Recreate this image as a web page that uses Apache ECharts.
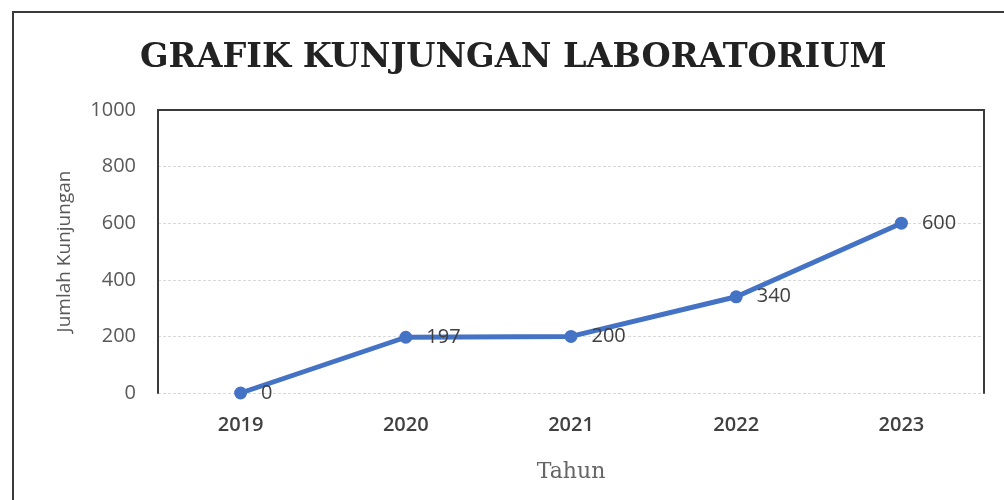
<!DOCTYPE html>
<html>
<head>
<meta charset="utf-8">
<script src="https://cdn.jsdelivr.net/npm/echarts@6/dist/echarts.min.js"></script>
<style>
  html, body { margin: 0; padding: 0; background: #fff; }
  #chart { width: 1004px; height: 500px; }
</style>
</head>
<body>
<div id="chart"></div>
<script>
// --- data ---
const years = ['2019', '2020', '2021', '2022', '2023'];
const visits = [0, 197, 200, 340, 600];
const yTicks = [0, 200, 400, 600, 800, 1000];

const LINE = '#4472C4';
const TEXT = '#595959';
const DARK = '#404040';
const FRAME = '#3a3a3a';

const chart = echarts.init(document.getElementById('chart'));

chart.setOption({
  backgroundColor: '#fff',
  animation: false,
  title: {
    text: 'GRAFIK KUNJUNGAN LABORATORIUM',
    left: 135,
    top: 36,
    textStyle: {
      fontFamily: '"DejaVu Serif", serif',
      fontWeight: 'bold',
      fontSize: 33.5,
      color: '#222'
    }
  },
  // outer frame of the chart area (runs off the right and bottom edge)
  graphic: [{
    type: 'rect',
    silent: true,
    shape: { x: 13, y: 12, width: 1100, height: 600 },
    style: { fill: 'none', stroke: FRAME, lineWidth: 2 }
  }],
  grid: { left: 158, right: 20, top: 110, bottom: 107 },
  xAxis: [{
    type: 'category',
    data: years,
    boundaryGap: true,
    axisLine: { show: false },
    axisTick: { show: false },
    axisLabel: {
      color: DARK,
      fontFamily: '"Open Sans", sans-serif',
      fontWeight: 600,
      fontSize: 20,
      margin: 22
    },
    name: 'Tahun',
    nameLocation: 'middle',
    nameGap: 68,
    nameTextStyle: {
      color: '#666',
      fontFamily: '"DejaVu Serif", serif',
      fontSize: 22
    }
  }, {
    // top border of the plot box
    type: 'category',
    data: years,
    position: 'top',
    axisLine: { show: true, onZero: false, lineStyle: { color: FRAME, width: 2 } },
    axisTick: { show: false },
    axisLabel: { show: false }
  }],
  yAxis: [{
    type: 'value',
    min: yTicks[0],
    max: yTicks[yTicks.length - 1],
    interval: yTicks[1] - yTicks[0],
    axisLine: { show: true, lineStyle: { color: FRAME, width: 2 } },
    axisTick: { show: false },
    axisLabel: {
      color: TEXT,
      fontFamily: '"Open Sans", sans-serif',
      fontSize: 20,
      margin: 22,
      formatter: v => String(v)
    },
    splitLine: {
      show: true,
      lineStyle: { color: '#d9d9d9', type: [3, 2], width: 1 }
    },
    name: 'Jumlah Kunjungan',
    nameLocation: 'middle',
    nameGap: 84,
    nameRotate: 90,
    nameTextStyle: {
      color: TEXT,
      fontFamily: '"Open Sans", sans-serif',
      fontSize: 19
    }
  }, {
    // right border of the plot box
    type: 'value',
    position: 'right',
    min: yTicks[0],
    max: yTicks[yTicks.length - 1],
    interval: yTicks[1] - yTicks[0],
    axisLine: { show: true, onZero: false, lineStyle: { color: FRAME, width: 2 } },
    axisTick: { show: false },
    axisLabel: { show: false },
    splitLine: { show: false }
  }],
  series: [{
    type: 'line',
    data: visits,
    symbol: 'circle',
    symbolSize: 13,
    lineStyle: { color: LINE, width: 5 },
    itemStyle: { color: LINE },
    label: {
      show: true,
      position: 'right',
      distance: 14,
      color: DARK,
      fontFamily: '"Open Sans", sans-serif',
      fontSize: 20
    }
  }]
});
</script>
</body>
</html>
